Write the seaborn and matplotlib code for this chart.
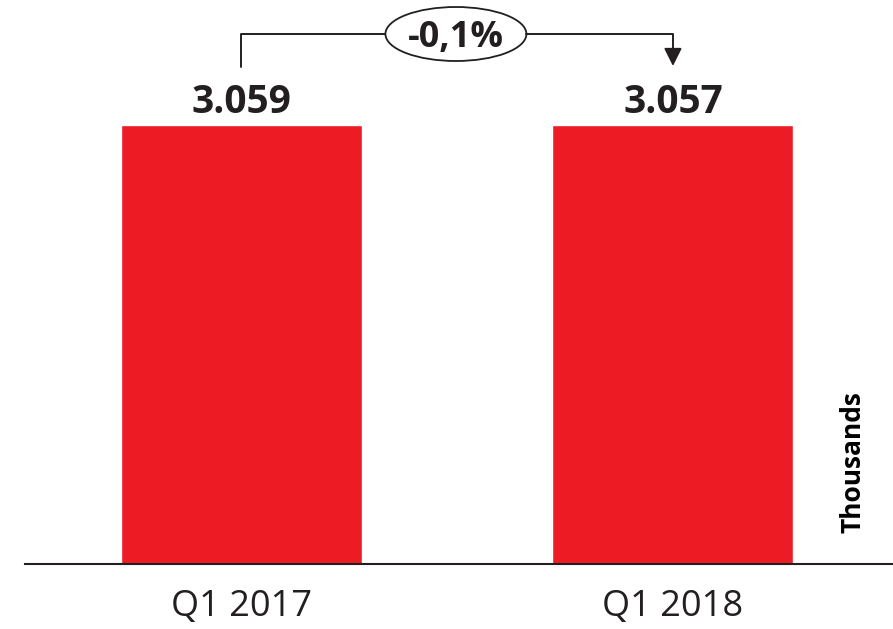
import matplotlib
matplotlib.use("Agg")
import matplotlib.pyplot as plt
from matplotlib.patches import Ellipse
import seaborn as sns
import pandas as pd

categories = ["Q1 2017", "Q1 2018"]
values = [3.059, 3.057]
value_labels = ["3.059", "3.057"]
change_label = "-0,1%"
unit_label = "Thousands"

sns.set_theme(style="white")
plt.rcParams["font.family"] = ["Open Sans", "DejaVu Sans"]

W, H = 893, 629
fig = plt.figure(figsize=(W / 100, H / 100), dpi=100)
ax_left, ax_bottom_px = 25, 564
ax = fig.add_axes([ax_left / W, (H - ax_bottom_px) / H, (W - ax_left) / W, ax_bottom_px / H])

df = pd.DataFrame({"cat": categories, "val": values})
sns.barplot(data=df, x="cat", y="val", color="#ED1C24", saturation=1, width=0.5585, ax=ax)

ymax = values[0] * 564 / 439
ax.set_ylim(0, ymax)
ax.set_xlim(-0.5017, 1.51)

for s in ["top", "right", "left"]:
    ax.spines[s].set_visible(False)
ax.spines["bottom"].set_color("#231F20")
ax.spines["bottom"].set_linewidth(1.5)
ax.set_yticks([])
ax.set_xlabel("")
ax.set_ylabel("")
ax.tick_params(axis="x", length=0, pad=18, labelsize=26, labelcolor="#231F20")

for i, (v, lab) in enumerate(zip(values, value_labels)):
    ax.annotate(lab, (i, v), xytext=(0, 8.6), textcoords="offset points",
                ha="center", va="baseline", fontsize=28, fontweight="bold", color="#231F20")

# bracket
px2y = ymax / 564
yb = ymax - 34 * px2y
ytop_left = ymax - 67 * px2y
ytip = ymax - 66 * px2y
ex, ew, eh = 0.497, 141 / 431.5, 54 * px2y
ax.plot([0, 0, ex - ew / 2], [ytop_left, yb, yb], color="#231F20", lw=1.4, clip_on=False)
ax.plot([ex + ew / 2, 1, 1], [yb, yb, ymax - 52 * px2y], color="#231F20", lw=1.4, clip_on=False)
ax.annotate("", xy=(1, ytip), xytext=(1, ymax - 50 * px2y),
            arrowprops=dict(arrowstyle="-|>,head_length=0.9,head_width=0.45", color="#231F20", lw=1.4,
                            shrinkA=0, shrinkB=0))
ax.add_patch(Ellipse((ex, yb), ew, eh, facecolor="white", edgecolor="#231F20", lw=1.3, clip_on=False))
ax.text(ex, yb, change_label, ha="center", va="center_baseline", fontsize=26, fontweight="bold", color="#231F20")

fig.text(853 / W, 1 - 462 / H, unit_label, rotation=90, ha="center", va="center",
         fontsize=19, fontweight="bold", color="#000000")

fig.savefig("out.png", dpi=100, facecolor="white")
